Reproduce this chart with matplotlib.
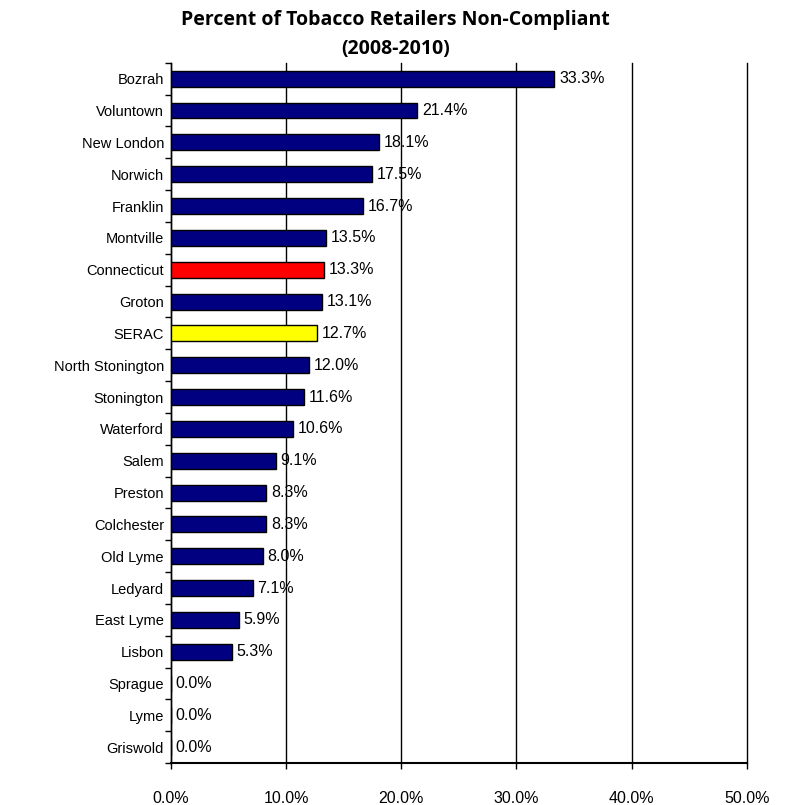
import numpy as np
import matplotlib.pyplot as plt
from matplotlib.ticker import FixedLocator

towns = ['Bozrah', 'Voluntown', 'New London', 'Norwich', 'Franklin', 'Montville',
         'Connecticut', 'Groton', 'SERAC', 'North Stonington', 'Stonington',
         'Waterford', 'Salem', 'Preston', 'Colchester', 'Old Lyme', 'Ledyard',
         'East Lyme', 'Lisbon', 'Sprague', 'Lyme', 'Griswold']
pct = [33.3, 21.4, 18.1, 17.5, 16.7, 13.5, 13.3, 13.1, 12.7, 12.0, 11.6,
       10.6, 9.1, 8.3, 8.3, 8.0, 7.1, 5.9, 5.3, 0.0, 0.0, 0.0]
highlight = {'Connecticut': '#ff0000', 'SERAC': '#ffff00'}
x_ticks = [0, 10, 20, 30, 40, 50]


def main():
    fig = plt.figure(figsize=(7.91, 8.05), dpi=100)
    ax = fig.add_axes([0.216, 0.052, 0.728, 0.870])

    y = np.arange(len(towns))
    colors = [highlight.get(t, '#000080') for t in towns]
    ax.barh(y, pct, height=0.5, color=colors, edgecolor='black', linewidth=1, zorder=3)

    for yi, v in zip(y, pct):
        ax.text(v + 0.4, yi, f'{v:.1f}%', va='center', ha='left',
                fontsize=11.5, family='Liberation Sans', zorder=4)

    ax.set_xlim(0, 50)
    ax.set_ylim(len(towns) - 0.5, -0.5)
    ax.set_xticks(x_ticks)
    ax.set_xticklabels([f'{t:.1f}%' for t in x_ticks], fontsize=11.5, family='Liberation Sans')
    ax.tick_params(axis='x', length=4, width=1, pad=16)
    ax.grid(axis='x', color='black', linewidth=1, zorder=0)
    for gl in ax.get_xgridlines():
        gl.set_clip_on(False)

    ax.set_yticks(y)
    ax.set_yticklabels(towns, fontsize=10.5, family='Liberation Sans')
    ax.tick_params(axis='y', which='major', length=0, pad=5)
    ax.yaxis.set_minor_locator(FixedLocator(np.arange(-0.5, len(towns), 1)))
    ax.tick_params(axis='y', which='minor', length=4, width=1)

    for side in ['top', 'right']:
        ax.spines[side].set_visible(False)
    ax.spines['left'].set_linewidth(1)
    ax.spines['bottom'].set_linewidth(1.5)

    fig.suptitle('Percent of Tobacco Retailers Non-Compliant\n(2008-2010)',
                 x=0.5, y=0.988, fontsize=14, fontweight='bold', family='Open Sans',
                 linespacing=1.65)
    fig.savefig('out.png', dpi=100)


if __name__ == '__main__':
    main()
